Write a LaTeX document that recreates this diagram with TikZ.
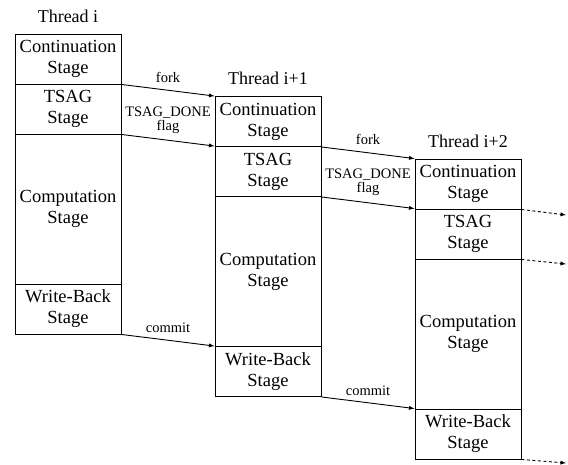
\documentclass[tikz,border=0pt]{standalone}
\usepackage{fontspec}
\setmainfont{Liberation Serif}
\usetikzlibrary{arrows}

\begin{document}
\begin{tikzpicture}[x=1pt,y=-1pt,line width=0.9pt,
    stagebox/.style={draw,rectangle,align=center,inner sep=0pt,minimum width=106pt,
      minimum height=50pt,font=\fontsize{18.5}{21}\selectfont},
    compbox/.style={stagebox,minimum height=150pt},
    thr/.style={anchor=base,font=\fontsize{18}{21}\selectfont},
    lbl/.style={align=center,inner sep=0pt,font=\fontsize{14.5}{14}\selectfont},
    nxt/.style={-latex,dash pattern=on 3pt off 2.5pt}]
      \useasboundingbox (0,0) rectangle (568,464);

      % thread i
      \node [thr] (th0) at (68,22) {Thread i};
      \node [stagebox] (c0) at (68,59) {Continuation\\Stage};
      \node [stagebox] (t0) at (68,109) {TSAG\\Stage};
      \node [compbox] (p0) at (68,209) {Computation\\Stage};
      \node [stagebox] (w0) at (68,309) {Write-Back\\Stage};

      % thread i+1
      \node [thr] (th1) at (268,84.5) {Thread i+1};
      \node [stagebox] (c1) at (268,121.5) {Continuation\\Stage};
      \node [stagebox] (t1) at (268,171.5) {TSAG\\Stage};
      \node [compbox] (p1) at (268,271.5) {Computation\\Stage};
      \node [stagebox] (w1) at (268,371.5) {Write-Back\\Stage};

      % thread i+2
      \node [thr] (th2) at (468,147) {Thread i+2};
      \node [stagebox] (c2) at (468,184) {Continuation\\Stage};
      \node [stagebox] (t2) at (468,234) {TSAG\\Stage};
      \node [compbox] (p2) at (468,334) {Computation\\Stage};
      \node [stagebox] (w2) at (468,434) {Write-Back\\Stage};

      \draw [-latex] (c0.south east) -- (c1.north west);
      \draw [-latex] (t0.south east) -- (t1.north west);
      \draw [-latex] (w0.south east) -- (w1.north west);
      \draw [-latex] (c1.south east) -- (c2.north west);
      \draw [-latex] (t1.south east) -- (t2.north west);
      \draw [-latex] (w1.south east) -- (w2.north west);

      \node [lbl] (f0) at (168,77) {fork};
      \node [lbl] (d0) at (168,120) {TSAG\_DONE\\flag};
      \node [lbl] (m0) at (168,328) {commit};
      \node [lbl] (f1) at (368,139.5) {fork};
      \node [lbl] (d1) at (368,182.5) {TSAG\_DONE\\flag};
      \node [lbl] (m1) at (368,390.5) {commit};

      \coordinate (e1) at (566,215);
      \coordinate (e2) at (566,264);
      \coordinate (e3) at (566,463);
      \draw [nxt] (c2.south east) -- (e1);
      \draw [nxt] (t2.south east) -- (e2);
      \draw [nxt] (w2.south east) -- (e3);
    \end{tikzpicture}
\end{document}
